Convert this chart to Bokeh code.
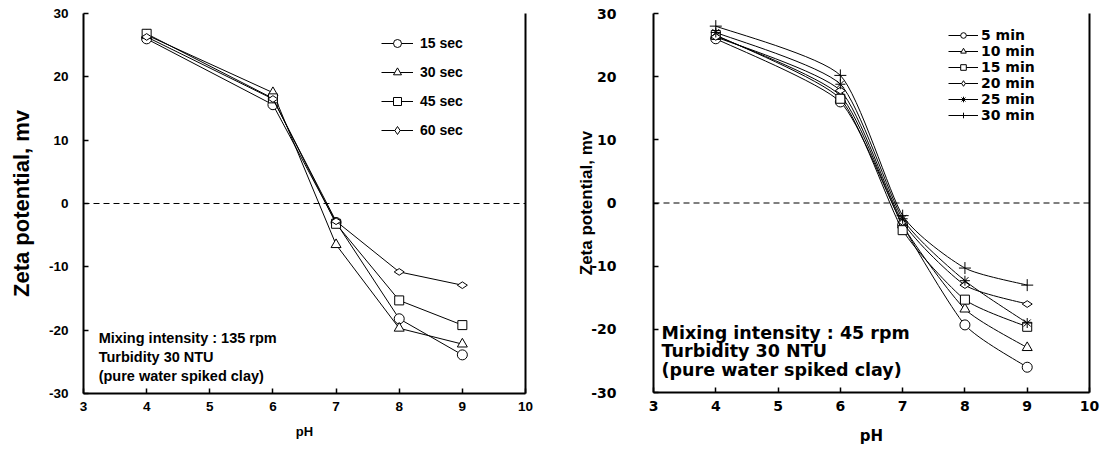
import math
from bokeh.plotting import figure
from bokeh.layouts import row
from bokeh.models import (Legend, LegendItem, Span, Label, LinearAxis, FixedTicker,
                          PrintfTickFormatter)
from bokeh.embed import file_html
from bokeh.resources import INLINE

# ---------------- data ----------------
ph = [4, 6, 7, 8, 9]

sec_labels = ["15 sec", "30 sec", "45 sec", "60 sec"]
sec_15 = [26.0, 15.6, -3.0, -18.2, -23.9]
sec_30 = [26.6, 17.5, -6.5, -19.7, -22.2]
sec_45 = [26.8, 16.6, -3.2, -15.3, -19.2]
sec_60 = [26.3, 16.5, -2.8, -10.8, -12.9]

min_labels = ["5 min", "10 min", "15 min", "20 min", "25 min", "30 min"]
min_5 = [26.0, 16.0, -3.5, -19.3, -26.0]
min_10 = [26.5, 17.0, -3.5, -16.8, -22.9]
min_15 = [26.6, 16.5, -4.3, -15.3, -19.6]
min_20 = [26.3, 17.8, -3.0, -13.0, -16.0]
min_25 = [27.0, 18.8, -2.5, -12.3, -19.0]
min_30 = [28.0, 20.2, -2.0, -10.3, -13.0]

x_ticks = [3, 4, 5, 6, 7, 8, 9, 10]
y_ticks = [-30, -20, -10, 0, 10, 20, 30]

left_notes = ["Mixing intensity : 135 rpm", "Turbidity 30 NTU", "(pure water spiked clay)"]
right_notes = ["Mixing intensity : 45 rpm", "Turbidity 30 NTU", "(pure water spiked clay)"]


def style_axes(p, font, tick_size, label_size, label_font, y_label_size,
               y_standoff, y_label_standoff, x_standoff, x_label_standoff):
    p.xaxis.ticker = FixedTicker(ticks=x_ticks)
    p.yaxis.ticker = FixedTicker(ticks=y_ticks)
    p.xaxis.formatter = PrintfTickFormatter(format="%d")
    p.yaxis.formatter = PrintfTickFormatter(format="%d")
    for ax in (p.xaxis[0], p.yaxis[0]):
        ax.axis_line_width = 2
        ax.axis_line_color = "black"
        ax.major_tick_in = 5
        ax.major_tick_out = 0
        ax.major_tick_line_width = 1.5
        ax.minor_tick_line_color = None
        ax.major_label_text_font = font
        ax.major_label_text_font_style = "bold"
        ax.major_label_text_font_size = tick_size
        ax.major_label_text_color = "black"
        ax.axis_label_text_font_style = "bold"
        ax.axis_label_text_color = "black"
    p.yaxis.major_label_standoff = y_standoff
    p.yaxis.axis_label_standoff = y_label_standoff
    p.yaxis.axis_label_text_font = label_font
    p.yaxis.axis_label_text_font_size = y_label_size
    p.xaxis.major_label_standoff = x_standoff
    p.xaxis.axis_label_standoff = x_label_standoff
    p.xaxis.axis_label_text_font = font
    p.xaxis.axis_label_text_font_size = label_size
    p.xgrid.visible = False
    p.ygrid.visible = False
    p.outline_line_color = None
    right = LinearAxis(ticker=FixedTicker(ticks=[]), axis_line_width=2,
                       axis_line_color="black", major_tick_line_color=None,
                       minor_tick_line_color=None)
    p.add_layout(right, "right")
    p.add_layout(Span(location=0, dimension="width", line_color="black",
                      line_width=1.2, line_dash="6 4"))


def bezier_parts(xs, ys, t=0.1):
    n = len(xs)
    out = dict(x0=[], y0=[], x1=[], y1=[], cx0=[], cy0=[], cx1=[], cy1=[])
    for i in range(n - 1):
        xp, yp = (xs[i - 1], ys[i - 1]) if i > 0 else (xs[i], ys[i])
        xn, yn = (xs[i + 2], ys[i + 2]) if i + 2 < n else (xs[i + 1], ys[i + 1])
        out["x0"].append(xs[i]); out["y0"].append(ys[i])
        out["x1"].append(xs[i + 1]); out["y1"].append(ys[i + 1])
        out["cx0"].append(xs[i] + (xs[i + 1] - xp) * t)
        out["cy0"].append(ys[i] + (ys[i + 1] - yp) * t)
        out["cx1"].append(xs[i + 1] - (xn - xs[i]) * t)
        out["cy1"].append(ys[i + 1] - (yn - ys[i]) * t)
    return out


# ---------------- left panel ----------------
p1 = figure(frame_width=442, frame_height=380, x_range=(3, 10), y_range=(-30, 30),
            min_border_left=83, min_border_right=30, min_border_top=13,
            min_border_bottom=50, output_backend="svg", toolbar_location=None,
            x_axis_label="pH", y_axis_label="Zeta potential, mv")
style_axes(p1, "Liberation Sans", "13.5px", "13px", "Liberation Sans", "22px",
           15, 12, 8, 10)

left_series = [sec_15, sec_30, sec_45, sec_60]
left_markers = [("circle", 10, 0), ("triangle", 10, 0), ("square", 9, 0),
                ("diamond", 10, math.pi / 2)]
items = []
for lab, ys, (mk, sz, ang) in zip(sec_labels, left_series, left_markers):
    lr = p1.line(ph, ys, line_color="black", line_width=1)
    sr = p1.scatter(ph, ys, marker=mk, size=sz, angle=ang, fill_color="white",
                    line_color="black", line_width=1)
    items.append(LegendItem(label=lab, renderers=[lr, sr]))
leg1 = Legend(items=items, location=(298, 253), padding=0, margin=0,
              spacing=9, glyph_width=32, glyph_height=20, label_height=20,
              label_standoff=7, label_text_font="Liberation Sans",
              label_text_font_style="bold", label_text_font_size="14px",
              label_text_color="black",
              border_line_color=None, background_fill_alpha=0)
p1.add_layout(leg1)

for i, txt in enumerate(left_notes):
    p1.add_layout(Label(x=3.24, y=-21.2 - 3.0 * i, text=txt, text_baseline="middle",
                        text_font="Liberation Sans", text_font_style="bold",
                        text_font_size="14.5px", text_color="black"))

# ---------------- right panel ----------------
p2 = figure(frame_width=436, frame_height=379, x_range=(3, 10), y_range=(-30, 30),
            min_border_left=98, min_border_right=12, min_border_top=12,
            min_border_bottom=55, output_backend="svg", toolbar_location=None,
            x_axis_label="pH", y_axis_label="Zeta potential, mv")
style_axes(p2, "DejaVu Sans", "14px", "15px", "Liberation Sans", "17px",
           37, -8, 8, 13)

right_series = [min_5, min_10, min_15, min_20, min_25, min_30]
right_markers = [("circle", 10, 0), ("triangle", 10, 0), ("square", 9, 0),
                 ("diamond", 10, math.pi / 2), ("asterisk", 10, 0), ("cross", 12, 0)]
items2 = []
for lab, ys, (mk, sz, ang) in zip(min_labels, right_series, right_markers):
    bz = bezier_parts(ph, ys)
    br = p2.bezier(x0=bz["x0"], y0=bz["y0"], x1=bz["x1"], y1=bz["y1"],
                   cx0=bz["cx0"], cy0=bz["cy0"], cx1=bz["cx1"], cy1=bz["cy1"],
                   line_color="black", line_width=1)
    sr = p2.scatter(ph, ys, marker=mk, size=sz, angle=ang, fill_color="white",
                    line_color="black", line_width=1)
    items2.append(LegendItem(label=lab, renderers=[br, sr]))
leg2 = Legend(items=items2, location=(295, 269), padding=0, margin=0,
              spacing=0, glyph_width=30, glyph_height=14, label_height=14,
              label_standoff=3, label_text_font="DejaVu Sans",
              label_text_font_style="bold", label_text_font_size="14px",
              label_text_color="black",
              border_line_color=None, background_fill_alpha=0)
p2.add_layout(leg2)

for i, txt in enumerate(right_notes):
    p2.add_layout(Label(x=3.13, y=-20.57 - 2.9 * i, text=txt, text_baseline="middle",
                        text_font="DejaVu Sans", text_font_style="bold",
                        text_font_size="17.5px", text_color="black"))

layout = row(p1, p2)
open("out.html", "w").write(file_html(layout, INLINE))
